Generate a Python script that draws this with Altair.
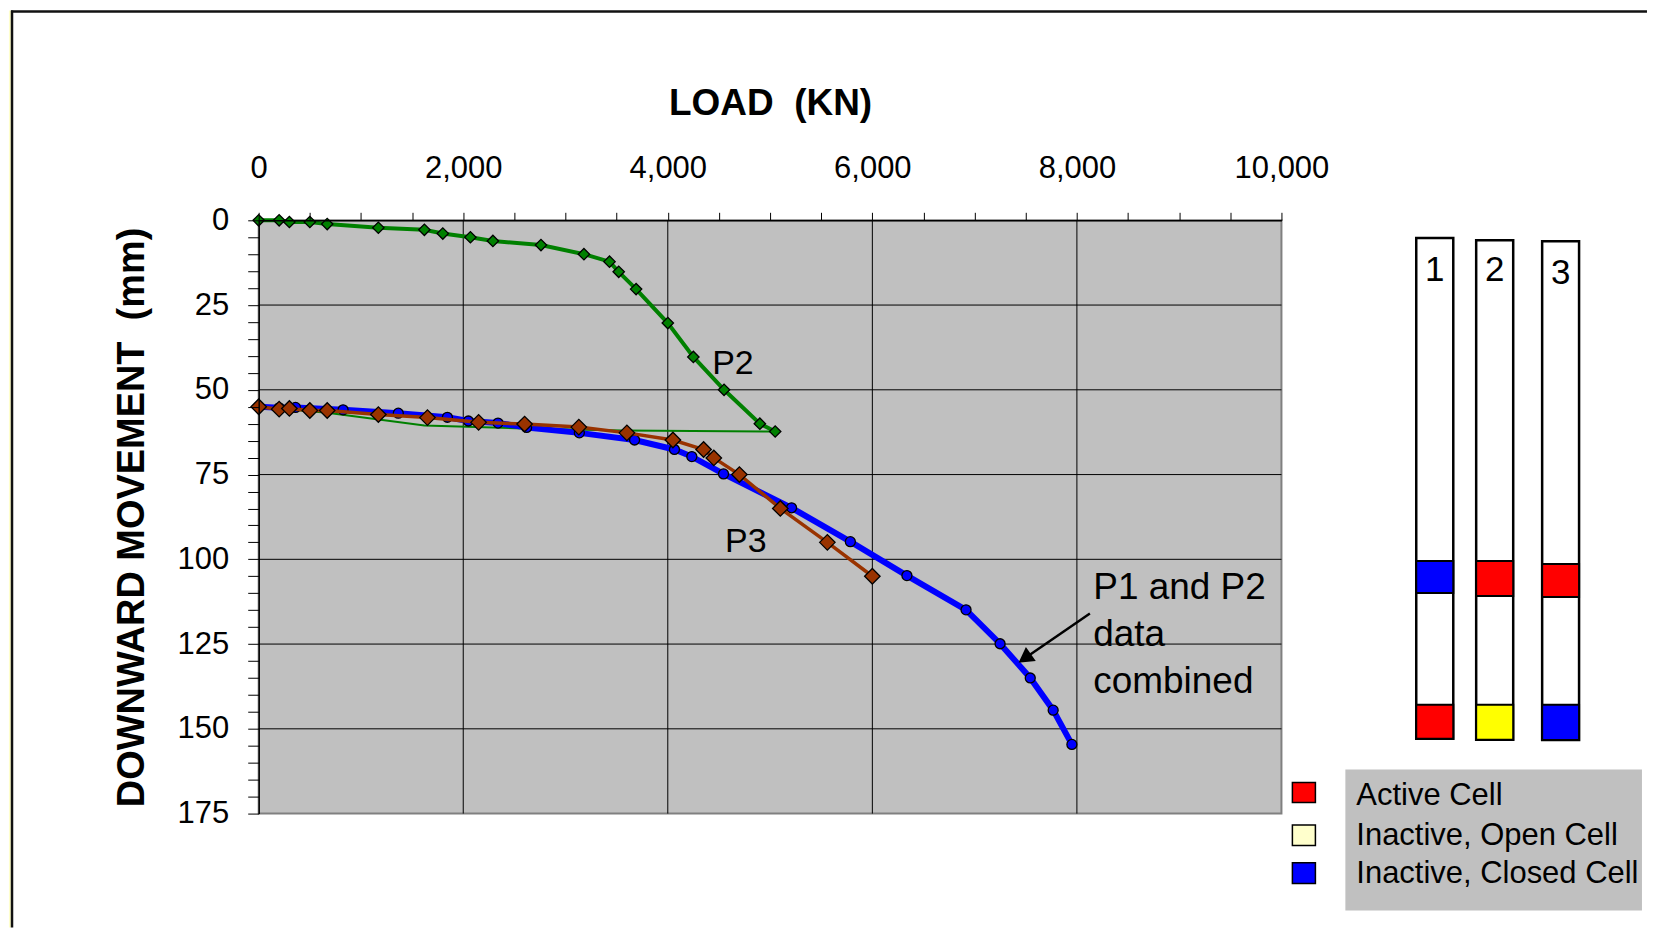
import altair as alt
import pandas as pd

FONT = "Liberation Sans"

# ---------------- data ----------------
# P2 test (green diamonds)
p2_load = [0, 200, 300, 500, 670, 1170, 1620, 1800, 2070, 2290, 2760, 3180, 3430, 3520, 3690, 4000, 4250, 4550, 4900, 5050]
p2_move = [0, 0, 0.5, 0.5, 1.1, 2.2, 2.8, 3.9, 5.0, 6.1, 7.3, 10.0, 12.2, 15.2, 20.3, 30.3, 40.3, 50.0, 60.0, 62.3]

# P2 shifted (thin green line)
p2s_load = [0, 670, 1620, 2600, 3550, 5050]
p2s_move = [55.0, 56.8, 60.5, 61.4, 62.0, 62.3]

# P3 test (brown diamonds)
p3_load = [0, 200, 300, 500, 670, 1170, 1650, 2150, 2600, 3130, 3600, 4050, 4350, 4450, 4700, 5100, 5560, 6000]
p3_move = [55.0, 55.7, 55.5, 56.1, 56.1, 57.3, 58.2, 59.6, 60.1, 61.0, 62.7, 64.8, 67.6, 70.1, 75.0, 85.0, 95.0, 105.0]

# P1 and P2 combined (blue circles)
pc_load = [0, 200, 360, 825, 1365, 1845, 2050, 2340, 2620, 3135, 3675, 4065, 4235, 4545, 5210, 5785, 6338, 6916, 7249, 7544, 7768, 7951]
pc_move = [55.0, 55.3, 55.2, 55.9, 56.9, 58.1, 59.2, 59.8, 61.1, 62.7, 64.8, 67.6, 69.7, 74.8, 84.8, 94.8, 104.8, 114.9, 124.9, 135.0, 144.5, 154.6]

# grid
grid_x = [2000, 4000, 6000, 8000]
grid_y = [25, 50, 75, 100, 125, 150]
x_ticks = list(range(0, 10001, 500))
y_ticks = list(range(0, 176, 5))

# annotations (data coordinates)
ann_text = ["P2", "P3", "P1 and P2", "data", "combined"]
ann_x = [4434, 4560, 8160, 8160, 8160]
ann_y = [45.4, 97.7, 111.7, 125.7, 139.5]
ann_size = [34, 34, 37, 37, 37]
arrow_from = (8127, 116.0)
arrow_to = (7494, 129.1)

# frame
frame_x = [-2422, 13574]
frame_y = [-61.9, 208.6]
edge_x = -2442

# cell diagrams
cell_label = ["1", "2", "3"]
cell_left = [11318, 11904, 12549]
cell_right = [11680, 12266, 12910]
cell_top = [5.2, 5.9, 6.2]
cell_bottom = [152.9, 153.2, 153.3]
cell_label_y = [17.8, 17.8, 18.9]
upper_state = ["closed", "active", "active"]
upper_top = [100.5, 100.5, 101.4]
upper_bottom = [109.9, 110.8, 111.1]
lower_state = ["active", "open", "closed"]
lower_top = [142.9, 142.9, 142.9]
lower_bottom = [152.9, 153.2, 153.3]

# legend
leg_labels = ["Active Cell", "Inactive, Open Cell", "Inactive, Closed Cell"]
leg_sw_x = [10107, 10332]
leg_sw_top = [165.8, 178.4, 189.5]
leg_sw_bottom = [171.7, 184.4, 195.6]
leg_text_x = 10732
leg_text_y = [172.5, 184.2, 195.5]
leg_box_x = [10625, 13525]
leg_box_y = [162.0, 203.6]

# ---------------- scales / axes ----------------
XS = alt.Scale(domain=[0, 10000], nice=False, zero=False)
YS = alt.Scale(domain=[0, 175], nice=False, zero=False, reverse=True)

XAX = alt.Axis(
    orient="top", values=x_ticks,
    labelExpr="datum.value % 2000 == 0 ? format(datum.value, ',') : ''",
    title="LOAD \u00a0(KN)", grid=False, tickSize=8, tickColor="black", tickWidth=1,
    domainColor="black", domainWidth=1.5, labelFontSize=31, labelPadding=28,
    labelFont=FONT, labelColor="black", titleFont=FONT, titleFontSize=37,
    titleFontWeight="bold", titleColor="black", titlePadding=30, zindex=1,
    labelFlush=False, labelOverlap=False,
)
YAX = alt.Axis(
    orient="left", values=y_ticks,
    labelExpr="datum.value % 25 == 0 ? datum.value : ''",
    title="DOWNWARD MOVEMENT \u00a0(mm)", grid=False, tickSize=11, tickColor="black",
    tickWidth=1, domainColor="black", domainWidth=1.5, labelFontSize=31, labelPadding=19,
    labelFont=FONT, labelColor="black", titleFont=FONT, titleFontSize=38,
    titleFontWeight="bold", titleColor="black", titlePadding=26, zindex=1,
    labelFlush=False, labelOverlap=False,
)


def X(f="x"):
    return alt.X(f, type="quantitative", scale=XS, axis=XAX)


def Y(f="y"):
    return alt.Y(f, type="quantitative", scale=YS, axis=YAX)


# ---------------- layers ----------------
edge_df = pd.DataFrame({"x": [edge_x], "x2": [frame_x[0]], "y": [frame_y[0]], "y2": [frame_y[1]]})
edge = alt.Chart(edge_df).mark_rect(fill="#FFFFCC", stroke=None).encode(
    x=X(), x2="x2", y=Y(), y2="y2")

frame_df = pd.DataFrame({"x": [frame_x[0]], "x2": [frame_x[1]], "y": [frame_y[0]], "y2": [frame_y[1]]})
frame = alt.Chart(frame_df).mark_rect(fill="white", stroke=None).encode(
    x=X(), x2="x2", y=Y(), y2="y2")

border_df = pd.DataFrame({
    "x": [frame_x[0] + 10, frame_x[0]],
    "x2": [frame_x[0] + 10, frame_x[1]],
    "y": [frame_y[0], frame_y[0] + 0.3],
    "y2": [frame_y[1], frame_y[0] + 0.3],
})
border = alt.Chart(border_df).mark_rule(color="#111111", strokeWidth=2.5).encode(
    x=X(), x2="x2", y=Y(), y2="y2")

plot_df = pd.DataFrame({"x": [0], "x2": [10000], "y": [0], "y2": [175]})
plot_bg = alt.Chart(plot_df).mark_rect(fill="#C0C0C0", stroke="#808080", strokeWidth=2).encode(
    x=X(), x2="x2", y=Y(), y2="y2")

grid_df = pd.DataFrame({
    "x": grid_x + [0] * len(grid_y),
    "x2": grid_x + [10000] * len(grid_y),
    "y": [0] * len(grid_x) + grid_y,
    "y2": [175] * len(grid_x) + grid_y,
})
grid = alt.Chart(grid_df).mark_rule(color="black", strokeWidth=1).encode(
    x=X(), x2="x2", y=Y(), y2="y2")

p2s_df = pd.DataFrame({"x": p2s_load, "y": p2s_move})
p2s_line = alt.Chart(p2s_df).mark_line(color="#008000", strokeWidth=2).encode(x=X(), y=Y())

pc_df = pd.DataFrame({"x": pc_load, "y": pc_move})
pc_line = alt.Chart(pc_df).mark_line(color="#0000FF", strokeWidth=6).encode(x=X(), y=Y())
pc_pts = alt.Chart(pc_df).mark_point(shape="circle", filled=True, fill="#0000FF", stroke="black",
                                     strokeWidth=1.3, size=100, opacity=1).encode(x=X(), y=Y())

p3_df = pd.DataFrame({"x": p3_load, "y": p3_move})
p3_line = alt.Chart(p3_df).mark_line(color="#993300", strokeWidth=3.5).encode(x=X(), y=Y())
p3_pts = alt.Chart(p3_df).mark_point(shape="diamond", filled=True, fill="#993300", stroke="black",
                                     strokeWidth=1.3, size=240, opacity=1).encode(x=X(), y=Y())

p2_df = pd.DataFrame({"x": p2_load, "y": p2_move})
p2_line = alt.Chart(p2_df).mark_line(color="#008000", strokeWidth=4).encode(x=X(), y=Y())
p2_pts = alt.Chart(p2_df).mark_point(shape="diamond", filled=True, fill="#008000", stroke="black",
                                     strokeWidth=1.3, size=130, opacity=1).encode(x=X(), y=Y())

ann_df = pd.DataFrame({"x": ann_x, "y": ann_y, "t": ann_text, "s": ann_size})
ann = alt.Chart(ann_df).mark_text(align="left", baseline="alphabetic", font=FONT, color="black").encode(
    x=X(), y=Y(), text="t:N", size=alt.Size("s:Q", scale=None, legend=None))

arrow_df = pd.DataFrame({"x": [arrow_from[0]], "y": [arrow_from[1]], "x2": [arrow_to[0]], "y2": [arrow_to[1]]})
arrow_line = alt.Chart(arrow_df).mark_rule(color="black", strokeWidth=2.5).encode(
    x=X(), x2="x2", y=Y(), y2="y2")
head_df = pd.DataFrame({"x": [arrow_to[0]], "y": [arrow_to[1]]})
arrow_head = alt.Chart(head_df).mark_point(shape="triangle-up", filled=True, fill="black", stroke="black",
                                           size=190, angle=235, opacity=1).encode(x=X(), y=Y())

cells_df = pd.DataFrame({"x": cell_left, "x2": cell_right, "y": cell_top, "y2": cell_bottom})
cells = alt.Chart(cells_df).mark_rect(fill="white", stroke="black", strokeWidth=2.5).encode(
    x=X(), x2="x2", y=Y(), y2="y2")

sq_df = pd.DataFrame({
    "x": cell_left * 2, "x2": cell_right * 2,
    "y": upper_top + lower_top, "y2": upper_bottom + lower_bottom,
    "state": upper_state + lower_state,
})
squares = alt.Chart(sq_df).mark_rect(stroke="black", strokeWidth=2, opacity=1).encode(
    x=X(), x2="x2", y=Y(), y2="y2",
    color=alt.Color("state:N", scale=alt.Scale(domain=["active", "open", "closed"],
                                               range=["#FF0000", "#FFFF00", "#0000FF"]), legend=None))

cell_lab_df = pd.DataFrame({"x": [(a + b) / 2 for a, b in zip(cell_left, cell_right)],
                            "y": cell_label_y, "t": cell_label})
cell_labels = alt.Chart(cell_lab_df).mark_text(align="center", baseline="alphabetic", font=FONT,
                                               fontSize=35, color="black").encode(x=X(), y=Y(), text="t:N")

legbox_df = pd.DataFrame({"x": [leg_box_x[0]], "x2": [leg_box_x[1]], "y": [leg_box_y[0]], "y2": [leg_box_y[1]]})
legbox = alt.Chart(legbox_df).mark_rect(fill="#C0C0C0", stroke=None).encode(
    x=X(), x2="x2", y=Y(), y2="y2")

sw_df = pd.DataFrame({"x": [leg_sw_x[0]] * 3, "x2": [leg_sw_x[1]] * 3,
                      "y": leg_sw_top, "y2": leg_sw_bottom, "lab": leg_labels})
swatches = alt.Chart(sw_df).mark_rect(stroke="black", strokeWidth=1.5, opacity=1).encode(
    x=X(), x2="x2", y=Y(), y2="y2",
    color=alt.Color("lab:N", scale=alt.Scale(domain=leg_labels,
                                             range=["#FF0000", "#FFFFCC", "#0000FF"]), legend=None))

legtxt_df = pd.DataFrame({"x": [leg_text_x] * 3, "y": leg_text_y, "t": leg_labels})
legtxt = alt.Chart(legtxt_df).mark_text(align="left", baseline="alphabetic", font=FONT, fontSize=31,
                                        color="black").encode(x=X(), y=Y(), text="t:N")

chart = alt.layer(
    edge, frame, border, plot_bg, grid,
    p2s_line, pc_line, pc_pts, p3_line, p3_pts, p2_line, p2_pts,
    ann, arrow_line, arrow_head,
    cells, squares, cell_labels,
    legbox, swatches, legtxt,
).resolve_scale(color="independent").properties(
    width=1024, height=594,
    background="white",
    padding={"left": 0, "top": 0, "right": 0, "bottom": 0},
).configure_view(stroke=None)

chart.save("out.html", embed_options={"renderer": "svg", "actions": False})
